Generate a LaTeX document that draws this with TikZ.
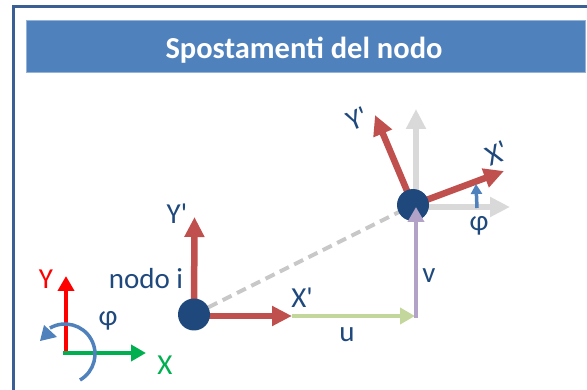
\documentclass[tikz,border=0pt]{standalone}
\usepackage{fontspec}
\setmainfont{Carlito}[Ligatures=TeXOff]
\usetikzlibrary{arrows.meta}
\definecolor{frameblue}{HTML}{3A5F94}
\definecolor{headblue}{HTML}{4F81BD}
\definecolor{headline}{HTML}{95B3D7}
\definecolor{navy}{HTML}{1F497D}
\definecolor{brick}{HTML}{C0504D}
\definecolor{lgray}{HTML}{D9D9D9}
\definecolor{dgray}{HTML}{C8C8C8}
\definecolor{lilac}{HTML}{B3A2C7}
\definecolor{lgreen}{HTML}{C3D69B}
\definecolor{axgreen}{HTML}{00B050}
\tikzset{
  lbl/.style={inner sep=0pt,text=navy,font=\fontsize{29}{29}\selectfont},
  dot/.style={circle,fill=navy,minimum size=32pt,inner sep=0pt},
  bigarrow/.style={line width=6.5pt,-{Triangle[length=20pt,width=19pt]}},
  midarrow/.style={line width=4pt,-{Triangle[length=15pt,width=16pt]}},
  thinarrow/.style={line width=4pt,-{Triangle[length=15pt,width=16pt]}},
}
\begin{document}
\begin{tikzpicture}[x=1pt,y=-1pt]
\useasboundingbox (0,0) rectangle (587,390);
\fill[white] (0,0) rectangle (587,390);
\draw[frameblue,line width=2.2pt] (13.5,395) -- (13.5,6.5) -- (592,6.5);
\node[draw=headline,line width=0.8pt,fill=headblue,minimum width=559pt,minimum height=51.5pt,inner sep=0pt,anchor=north west] (head) at (25.5,20.5) {};
\node[inner sep=0pt,text=white,font=\bfseries\fontsize{30.5}{30.5}\selectfont] (title) at (304,50) {Spostamenti del nodo};

% coordinates
\coordinate (c0) at (66,353);
\coordinate (yt) at (66,276);
\coordinate (x0) at (63,353);
\coordinate (xt) at (146,353);
\coordinate (ct) at (194.5,217);
\coordinate (ni) at (194,314.5);
\coordinate (nix) at (194,316);
\coordinate (ux) at (292,316);
\coordinate (corner) at (415,316);
\coordinate (cv) at (416,318);
\coordinate (nf) at (413,205);
\coordinate (gup) at (416,109);
\coordinate (gbase) at (416,207);
\coordinate (grt) at (510,207);
\coordinate (rx) at (504,171);
\coordinate (ry) at (375,115);
\coordinate (pa) at (477,208);
\coordinate (pb) at (476,184);
\coordinate (vt) at (416,207);
\coordinate (as) at (80,380);

% reference axes
\draw[thinarrow,red] (c0) -- (yt);
\draw[thinarrow,axgreen] (x0) -- (xt);
\draw[line width=3.5pt,headblue] (as) arc[start angle=-60,end angle=120,radius=30pt];
\fill[headblue] (40,341) -- (44,325) -- (57,337) -- cycle;

% dashed link
\draw[dgray,line width=4pt,dash pattern=on 10pt off 6pt] (ni) -- (nf);
% gray axes
\draw[bigarrow,lgray] (gbase) -- (gup);
\draw[bigarrow,lgray] (gbase) -- (grt);
% displacement
\draw[midarrow,lgreen] (ux) -- (corner);
% node i frame
\draw[bigarrow,brick] (ni) -- (ct);
\draw[bigarrow,brick] (nix) -- (ux);
% rotated frame
\draw[bigarrow,brick] (nf) -- (rx);
\draw[bigarrow,brick] (nf) -- (ry);
\draw[line width=3.5pt,headblue,-{Triangle[length=10pt,width=11pt]}] (pa) -- (pb);
% nodes
\node[dot] (nodei) at (ni) {};
\node[dot] (nodef) at (nf) {};
\draw[midarrow,lilac] (cv) -- (vt);

% labels
\node[lbl] (l1) at (177,214) {Y'};
\node[lbl] (l2) at (146,279) {nodo i};
\node[lbl] (l3) at (302,298) {X'};
\node[lbl] (l4) at (347,335) {u};
\node[lbl] (l5) at (429,276) {v};
\node[lbl] (l6) at (357,119) {\rotatebox{22}{Y'}};
\node[lbl] (l7) at (497,153) {\rotatebox{22}{X'}};
\node[lbl] (l8) at (479,226) {φ};
\node[lbl] (l9) at (108,321) {φ};
\node[lbl,text=red] (l10) at (46,279) {Y};
\node[lbl,text=axgreen] (l11) at (165,365) {X};
\end{tikzpicture}
\end{document}
